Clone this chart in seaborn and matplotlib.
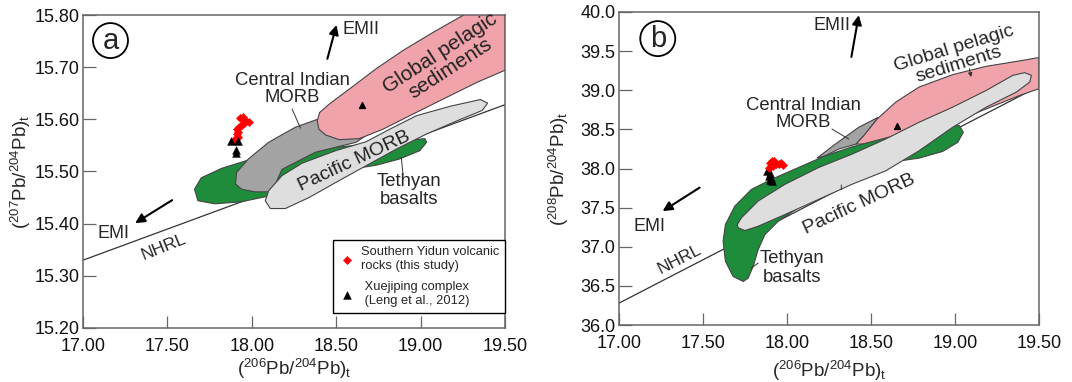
import numpy as np
import pandas as pd
import matplotlib
matplotlib.use('Agg')
import matplotlib.pyplot as plt
import seaborn as sns

sns.set_style('ticks')
plt.rcParams['font.family'] = ['Liberation Sans', 'DejaVu Sans']
plt.rcParams['mathtext.fontset'] = 'custom'
plt.rcParams['mathtext.rm'] = 'Liberation Sans'
plt.rcParams['mathtext.it'] = 'Liberation Sans'

# ---------------- panel a: 207Pb/204Pb vs 206Pb/204Pb ----------------
a_red_x = [17.930, 17.946, 17.964, 17.984, 17.954, 17.945, 17.924, 17.915,
           17.918, 17.911, 17.918, 17.905, 17.895]
a_red_y = [15.602, 15.604, 15.597, 15.595, 15.593, 15.589, 15.586, 15.581,
           15.576, 15.572, 15.567, 15.562, 15.560]
a_tri_x = [17.875, 17.918, 17.905, 17.905]
a_tri_y = [15.559, 15.559, 15.541, 15.535]
a_sed_tri = (18.653, 15.628)

a_nhrl_x = [17.00, 19.50]
a_nhrl_y = [15.330, 15.628]

a_tethyan = [(17.661, 15.466), (17.701, 15.488), (17.821, 15.506), (17.980, 15.522),
             (18.179, 15.537), (18.578, 15.549), (18.896, 15.559), (19.026, 15.563),
             (19.036, 15.556), (18.996, 15.540), (18.876, 15.524), (18.737, 15.512),
             (18.578, 15.504), (18.378, 15.485), (18.100, 15.453), (17.940, 15.442),
             (17.781, 15.438), (17.681, 15.444)]
a_indian = [(17.904, 15.476), (17.910, 15.498), (17.980, 15.524), (18.100, 15.556),
            (18.259, 15.585), (18.398, 15.601), (18.578, 15.607), (18.677, 15.569),
            (18.618, 15.556), (18.378, 15.537), (18.179, 15.504), (18.120, 15.461),
            (18.020, 15.461), (17.940, 15.466)]
a_pacific = [(18.080, 15.444), (18.100, 15.463), (18.179, 15.492), (18.299, 15.516),
             (18.498, 15.540), (18.677, 15.557), (18.817, 15.581), (18.976, 15.607),
             (19.175, 15.625), (19.355, 15.638), (19.398, 15.631), (19.365, 15.617),
             (19.215, 15.597), (19.036, 15.572), (18.857, 15.543), (18.677, 15.511),
             (18.498, 15.479), (18.339, 15.450), (18.199, 15.429), (18.110, 15.429)]
a_sediments = [(18.388, 15.597), (18.402, 15.613), (18.458, 15.629), (18.578, 15.658),
               (18.737, 15.697), (18.896, 15.732), (19.076, 15.767), (19.255, 15.800),
               (19.500, 15.800), (19.500, 15.694), (19.335, 15.671), (19.135, 15.639),
               (18.936, 15.607), (18.777, 15.581), (18.637, 15.563), (18.518, 15.561),
               (18.438, 15.570), (18.398, 15.581)]

# ---------------- panel b: 208Pb/204Pb vs 206Pb/204Pb ----------------
b_red_x = [17.897, 17.911, 17.921, 17.937, 17.951, 17.965, 17.977, 17.917,
           17.901, 17.891]
b_red_y = [38.077, 38.099, 38.090, 38.056, 38.064, 38.073, 38.047, 38.034,
           38.021, 38.004]
b_tri_x = [17.881, 17.901, 17.891, 17.905, 17.897, 17.911]
b_tri_y = [37.970, 37.949, 37.906, 37.884, 37.850, 37.842]
b_sed_tri = (18.658, 38.548)

b_nhrl_x = [17.00, 19.50]
b_nhrl_y = [36.28, 39.05]

b_tethyan = [(17.740, 36.557), (17.680, 36.621), (17.634, 36.814), (17.620, 37.071),
             (17.634, 37.285), (17.690, 37.520), (17.789, 37.734), (17.909, 37.863),
             (18.069, 38.013), (18.229, 38.163), (18.389, 38.278), (18.588, 38.390),
             (18.748, 38.475), (18.907, 38.540), (19.027, 38.548), (19.051, 38.463),
             (19.017, 38.334), (18.927, 38.218), (18.787, 38.133), (18.648, 38.090),
             (18.508, 37.970), (18.189, 37.670), (17.949, 37.328), (17.869, 37.156),
             (17.829, 36.964), (17.799, 36.749), (17.769, 36.600)]
b_pacific = [(17.710, 37.242), (17.750, 37.208), (17.829, 37.263), (17.989, 37.413),
             (18.189, 37.606), (18.388, 37.799), (18.588, 37.970), (18.787, 38.227),
             (18.987, 38.527), (19.187, 38.784), (19.366, 38.976), (19.446, 39.105),
             (19.456, 39.191), (19.416, 39.225), (19.346, 39.191), (19.187, 38.998),
             (18.987, 38.784), (18.787, 38.591), (18.588, 38.377), (18.388, 38.184),
             (18.189, 38.013), (17.989, 37.799), (17.829, 37.585), (17.729, 37.370),
             (17.705, 37.285)]
b_sediments = [(18.412, 38.313), (18.458, 38.420), (18.538, 38.634), (18.648, 38.848),
               (18.787, 39.041), (18.987, 39.199), (19.187, 39.306), (19.386, 39.375),
               (19.500, 39.418), (19.500, 39.019), (19.386, 38.934), (19.187, 38.762),
               (18.987, 38.591), (18.768, 38.420), (18.588, 38.313)]
b_indian = [(18.179, 38.133), (18.289, 38.313), (18.428, 38.527), (18.544, 38.655),
            (18.468, 38.441), (18.412, 38.313), (18.308, 38.248), (18.229, 38.163)]

x_ticks = [17.00, 17.50, 18.00, 18.50, 19.00, 19.50]
a_y_ticks = [15.20, 15.30, 15.40, 15.50, 15.60, 15.70, 15.80]
b_y_ticks = [36.0, 36.5, 37.0, 37.5, 38.0, 38.5, 39.0, 39.5, 40.0]

GREEN = '#1f8c3b'
PINK = '#f0a3aa'
GREY = '#a3a3a3'
LIGHT = '#dedede'
EDGE = '#444444'


def field(ax, pts, color, z):
    xs, ys = zip(*pts)
    ax.fill(xs, ys, facecolor=color, edgecolor=EDGE, linewidth=0.8, zorder=z)


def arrow(ax, tail, head):
    ax.annotate('', xy=head, xytext=tail, zorder=6,
                arrowprops=dict(arrowstyle='-|>', color='black', lw=1.5,
                                mutation_scale=14, shrinkA=0, shrinkB=0))


def leader(ax, p0, p1, head=False):
    ax.annotate('', xy=p1, xytext=p0, zorder=6,
                arrowprops=dict(arrowstyle='-|>' if head else '-', color='#333333',
                                lw=0.7, mutation_scale=6, shrinkA=0, shrinkB=0))


def style_axes(ax, yticks, yfmt):
    ax.set_xlim(17.0, 19.5)
    ax.set_ylim(yticks[0], yticks[-1])
    ax.set_xticks(x_ticks)
    ax.set_xticklabels([f'{t:.2f}' for t in x_ticks])
    ax.set_yticks(yticks)
    ax.set_yticklabels([yfmt.format(t) for t in yticks])
    ax.tick_params(direction='in', length=9, width=0.9, color='#666666',
                   labelsize=13, labelcolor='#111111')
    ax.tick_params(axis='x', pad=7)
    ax.tick_params(axis='y', pad=2.5)
    for s in ax.spines.values():
        s.set_visible(True)
        s.set_color('#666666')
        s.set_linewidth(1.1)
    ax.set_xlabel(r'($^{206}$Pb/$^{204}$Pb)$_\mathrm{t}$', fontsize=13.5)


fig = plt.figure(figsize=(10.72, 3.82), dpi=100)
ax1 = fig.add_axes([0.0774, 0.1414, 0.3936, 0.8193])
ax2 = fig.add_axes([0.5774, 0.149, 0.3916, 0.8196])

# ---------- panel a ----------
field(ax1, a_tethyan, GREEN, 1)
field(ax1, a_indian, GREY, 2)
field(ax1, a_pacific, LIGHT, 3)
field(ax1, a_sediments, PINK, 4)
sns.lineplot(x=a_nhrl_x, y=a_nhrl_y, ax=ax1, color='#333333', lw=0.9, zorder=0.5)

df_a_red = pd.DataFrame({'x': a_red_x, 'y': a_red_y})
df_a_tri = pd.DataFrame({'x': a_tri_x, 'y': a_tri_y})
sns.scatterplot(data=df_a_red, x='x', y='y', ax=ax1, marker='D', s=18, color='red',
                edgecolor='red', linewidth=0.3, zorder=7,
                label='Southern Yidun volcanic\nrocks (this study)')
sns.scatterplot(data=df_a_tri, x='x', y='y', ax=ax1, marker='^', s=32, color='black',
                edgecolor='black', linewidth=0.3, zorder=7,
                label=' Xuejiping complex\n (Leng et al., 2012)')
ax1.scatter([a_sed_tri[0]], [a_sed_tri[1]], marker='^', s=18, color='black', zorder=7)

ax1.text(18.239, 15.658, 'Central Indian\nMORB', ha='center', va='center',
         fontsize=13.3, linespacing=1.05, zorder=8)
leader(ax1, (18.239, 15.620), (18.289, 15.583))
ax1.text(19.145, 15.712, 'Global pelagic\nsediments', ha='center', va='center',
         fontsize=15, rotation=33, linespacing=1.0, color='#222222', zorder=8)
ax1.text(18.608, 15.519, 'Pacific MORB', ha='center', va='center', fontsize=14,
         rotation=25, color='#222222', zorder=8)
ax1.text(18.932, 15.463, 'Tethyan\nbasalts', ha='center', va='center',
         fontsize=13.3, linespacing=1.1, zorder=8)
leader(ax1, (18.896, 15.495), (18.886, 15.527))
arrow(ax1, (18.448, 15.716), (18.502, 15.781))
ax1.text(18.535, 15.772, 'EMII', ha='left', va='center', fontsize=13, zorder=8)
arrow(ax1, (17.528, 15.445), (17.309, 15.401))
ax1.text(17.183, 15.381, 'EMI', ha='center', va='center', fontsize=13, zorder=8)
ax1.text(17.478, 15.356, 'NHRL', ha='center', va='center', fontsize=12.5,
         rotation=22, zorder=8)
ax1.text(17.163, 15.751, 'a', ha='center', va='center', fontsize=21, zorder=8,
         bbox=dict(boxstyle='circle,pad=0.12', fc='white', ec='black', lw=1.3))

leg = ax1.legend(loc='lower right', bbox_to_anchor=(1.0, 0.048), fontsize=9.3,
                 frameon=True, fancybox=False, edgecolor='black', framealpha=1,
                 borderaxespad=0, handletextpad=0.4, labelspacing=0.75,
                 borderpad=0.45, handlelength=1.3)
leg.get_frame().set_linewidth(1.0)
leg.set_zorder(9)
style_axes(ax1, a_y_ticks, '{:.2f}')
ax1.set_ylabel(r'($^{207}$Pb/$^{204}$Pb)$_\mathrm{t}$', fontsize=13.5)
ax1.yaxis.set_label_coords(-0.118, 0.5)
ax1.xaxis.set_label_coords(0.5, -0.092)

# ---------- panel b ----------
field(ax2, b_indian, GREY, 1)
field(ax2, b_sediments, PINK, 2)
field(ax2, b_tethyan, GREEN, 3)
field(ax2, b_pacific, LIGHT, 4)
sns.lineplot(x=b_nhrl_x, y=b_nhrl_y, ax=ax2, color='#333333', lw=0.9, zorder=0.5)

df_b_red = pd.DataFrame({'x': b_red_x, 'y': b_red_y})
df_b_tri = pd.DataFrame({'x': b_tri_x, 'y': b_tri_y})
sns.scatterplot(data=df_b_tri, x='x', y='y', ax=ax2, marker='^', s=32, color='black',
                edgecolor='black', linewidth=0.3, zorder=7, legend=False)
sns.scatterplot(data=df_b_red, x='x', y='y', ax=ax2, marker='D', s=18, color='red',
                edgecolor='red', linewidth=0.3, zorder=7, legend=False)
ax2.scatter([b_sed_tri[0]], [b_sed_tri[1]], marker='^', s=18, color='black', zorder=7)

ax2.text(18.099, 38.698, 'Central Indian\nMORB', ha='center', va='center',
         fontsize=13.3, linespacing=1.05, zorder=8)
leader(ax2, (18.268, 38.505), (18.368, 38.377))
ax2.text(19.007, 39.426, 'Global pelagic\nsediments', ha='center', va='center',
         fontsize=14, rotation=17, linespacing=1.0, zorder=8)
leader(ax2, (19.087, 39.276), (19.097, 39.169), head=True)
ax2.text(18.428, 37.542, 'Pacific MORB', ha='center', va='center', fontsize=14,
         rotation=25, zorder=8)
leader(ax2, (18.324, 37.73), (18.324, 37.79))
ax2.text(18.029, 36.728, 'Tethyan\nbasalts', ha='center', va='center',
         fontsize=13.3, linespacing=1.1, zorder=8)
leader(ax2, (17.829, 36.792), (17.786, 36.728))
arrow(ax2, (18.384, 39.426), (18.428, 39.96))
ax2.text(18.269, 39.833, 'EMII', ha='center', va='center', fontsize=13, zorder=8)
arrow(ax2, (17.480, 37.756), (17.260, 37.456))
ax2.text(17.181, 37.255, 'EMI', ha='center', va='center', fontsize=13, zorder=8)
ax2.text(17.360, 36.835, 'NHRL', ha='center', va='center', fontsize=12.5,
         rotation=27, zorder=8)
ax2.text(17.231, 39.66, 'b', ha='center', va='center', fontsize=21, zorder=8,
         bbox=dict(boxstyle='circle,pad=0.12', fc='white', ec='black', lw=1.3))

style_axes(ax2, b_y_ticks, '{:.1f}')
ax2.set_ylabel(r'($^{208}$Pb/$^{204}$Pb)$_\mathrm{t}$', fontsize=13.5)
ax2.yaxis.set_label_coords(-0.114, 0.5)
ax2.xaxis.set_label_coords(0.5, -0.108)

fig.savefig('out.png', dpi=100)
